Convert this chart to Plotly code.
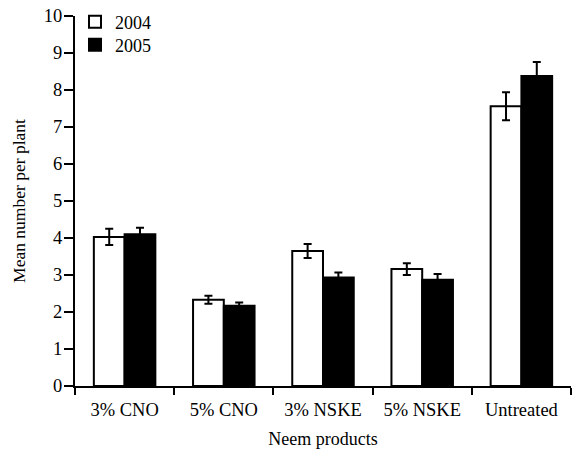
import plotly.graph_objects as go

categories = ["3% CNO", "5% CNO", "3% NSKE", "5% NSKE", "Untreated"]
vals_2004 = [4.03, 2.33, 3.65, 3.16, 7.56]
err_2004 = [0.22, 0.11, 0.19, 0.16, 0.38]
vals_2005 = [4.10, 2.17, 2.93, 2.87, 8.38]
err_2005 = [0.18, 0.09, 0.14, 0.16, 0.38]

font = dict(family="Liberation Serif, Times New Roman, serif", size=18, color="black")

fig = go.Figure()
fig.add_trace(go.Bar(
    x=categories, y=vals_2004, name="2004", legend="legend",
    marker=dict(color="white", line=dict(color="black", width=2)),
    error_y=dict(type="data", array=err_2004, color="black", thickness=2, width=4),
))
fig.add_trace(go.Bar(
    x=categories, y=vals_2005, name="2005", legend="legend2",
    marker=dict(color="black", line=dict(color="black", width=2)),
    error_y=dict(type="data", array=err_2005, color="black", thickness=2, width=4),
))

leg = dict(xanchor="left", yanchor="top", bgcolor="rgba(0,0,0,0)",
           font=dict(size=18), itemwidth=30)

fig.update_layout(
    width=572, height=449,
    margin=dict(l=75, r=1, t=16, b=63, autoexpand=False),
    paper_bgcolor="white", plot_bgcolor="white",
    font=font,
    barmode="group", bargap=0.38, bargroupgap=0,
    showlegend=True,
    legend=dict(x=0.0, y=1.0335, **leg),
    legend2=dict(x=0.0, y=0.9714, **leg),
    xaxis=dict(
        showline=True, linecolor="black", linewidth=2,
        ticks="outside", tickson="boundaries", ticklen=7, tickwidth=2, tickcolor="black",
        title=dict(text="Neem products", font=dict(size=18), standoff=16),
        tickfont=dict(size=18.5), ticklabelstandoff=6, automargin=False,
    ),
    yaxis=dict(
        range=[0, 10], dtick=1, showgrid=False, zeroline=False,
        showline=True, linecolor="black", linewidth=2,
        ticks="outside", ticklen=9, tickwidth=2, tickcolor="black",
        title=dict(text="Mean number per plant", font=dict(size=17.5), standoff=14),
        tickfont=dict(size=18.5), ticklabelstandoff=-2, automargin=False,
        ticklabeloverflow="allow",
    ),
)

fig.write_html("out.html", post_script="document.body.style.margin='0';",
               config={"displayModeBar": False})
